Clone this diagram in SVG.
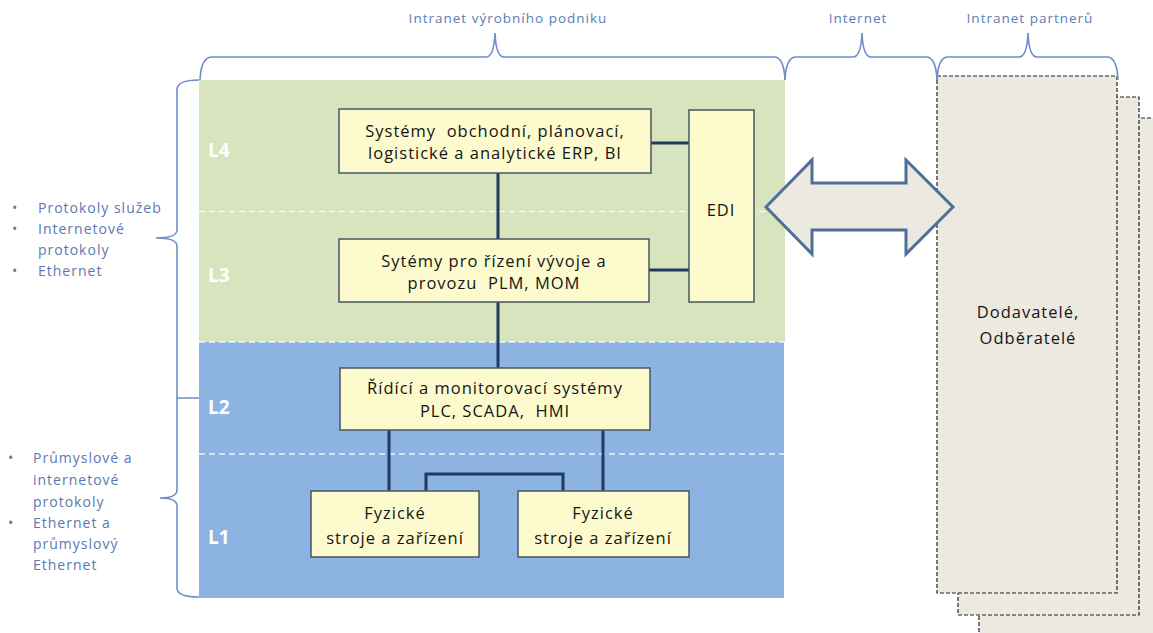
<svg xmlns="http://www.w3.org/2000/svg" width="1153" height="633" viewBox="0 0 1153 633">
<style>
.box{fill:#FDFBCD;stroke:#4A5663;stroke-width:1.5}
.bt{font-family:"Open Sans","Liberation Sans",sans-serif;font-size:16.5px;letter-spacing:1px;fill:#151515;text-anchor:middle;white-space:pre}
.lay{font-family:"Open Sans","Liberation Sans",sans-serif;font-size:19px;font-weight:bold;fill:#FFFFFF}
.brace{fill:none;stroke:#6E8FC7;stroke-width:1.6}
.lbl{font-family:"Open Sans","Liberation Sans",sans-serif;font-size:13.5px;letter-spacing:1px;fill:#5B7DB5;text-anchor:middle}
.side{font-family:"Open Sans","Liberation Sans",sans-serif;font-size:14px;letter-spacing:1px;fill:#5B78B0}
.conn{fill:none;stroke:#1F3B62;stroke-width:3}
.sep{stroke:#FFFFFF;stroke-width:1.3;stroke-dasharray:6 4;opacity:0.85}
.partner{fill:#ECEAE0;stroke:#222;stroke-width:1.2;stroke-dasharray:4 2}
</style>

<g id="background">
<rect x="199" y="80" width="586" height="262" fill="#D7E4BD"/>
<rect x="199" y="342" width="585" height="256" fill="#8DB3E2"/>
<line class="sep" x1="199" y1="211.5" x2="785" y2="211.5"/>
<line class="sep" x1="199" y1="342" x2="784" y2="342"/>
<line class="sep" x1="199" y1="454" x2="784" y2="454"/>
</g>

<g id="layer-labels">
<text class="lay" x="208" y="157">L4</text>
<text class="lay" x="208" y="282">L3</text>
<text class="lay" x="208" y="414">L2</text>
<text class="lay" x="208" y="544">L1</text>
</g>

<g id="partners">
<rect class="partner" x="979" y="118" width="200" height="540"/>
<rect class="partner" x="958" y="97" width="181" height="518"/>
<rect class="partner" x="937" y="76" width="180" height="517"/>
<text class="bt" x="1028" y="318">Dodavatelé,</text>
<text class="bt" x="1028" y="344">Odběratelé</text>
</g>

<g id="braces">
<path class="brace" d="M200,80 Q201,57 212,57 L486,57 Q494,57 495,33 Q496,57 504,57 L774,57 Q784,57 785,80"/>
<path class="brace" d="M785,80 Q786,57 796,57 L853,57 Q861,57 862,33 Q863,57 871,57 L926,57 Q936,57 937,80"/>
<path class="brace" d="M937,80 Q938,57 948,57 L1019,57 Q1027,57 1028,33 Q1029,57 1037,57 L1107,57 Q1117,57 1118,80"/>
<path class="brace" d="M199,80 Q177,80 177,90 L177,230 Q177,238 156,238 Q177,238 177,246 L177,398 L199,398"/>
<path class="brace" d="M177,398 L177,490 Q177,498 160,498 Q177,498 177,506 L177,588 Q177,597 199,597"/>
</g>

<g id="top-labels">
<text class="lbl" x="508" y="23">Intranet výrobního podniku</text>
<text class="lbl" x="858" y="23">Internet</text>
<text class="lbl" x="1030" y="23">Intranet partnerů</text>
</g>

<g id="side-labels">
<g class="side">
<text x="12" y="213">•</text><text x="38" y="213">Protokoly služeb</text>
<text x="12" y="234">•</text><text x="38" y="234">Internetové</text>
<text x="38" y="255">protokoly</text>
<text x="12" y="276">•</text><text x="38" y="276">Ethernet</text>
<text x="8" y="463">•</text><text x="33" y="463">Průmyslové a</text>
<text x="33" y="485">internetové</text>
<text x="33" y="507">protokoly</text>
<text x="8" y="528">•</text><text x="33" y="528">Ethernet a</text>
<text x="33" y="549">průmyslový</text>
<text x="33" y="570">Ethernet</text>
</g>
</g>

<g id="connectors">
<line class="conn" x1="498" y1="173" x2="498" y2="239"/>
<line class="conn" x1="498" y1="302" x2="498" y2="368"/>
<line class="conn" x1="651" y1="143" x2="689" y2="143"/>
<line class="conn" x1="649" y1="270" x2="689" y2="270"/>
<line class="conn" x1="389" y1="430" x2="389" y2="491"/>
<line class="conn" x1="603" y1="430" x2="603" y2="491"/>
<polyline class="conn" points="426,491 426,474 563,474 563,491"/>
<path id="edi-arrow" d="M766,207 L812,160 L812,183 L906,183 L906,160 L953,207 L906,254 L906,230 L812,230 L812,254 Z" fill="#ECEAE0" stroke="#4F6E99" stroke-width="3" stroke-linejoin="miter"/>
</g>

<g id="node-l4">
<rect class="box" x="339" y="109" width="312" height="64"/>
<text class="bt" x="495" y="137">Systémy  obchodní, plánovací,</text>
<text class="bt" x="495" y="159">logistické a analytické ERP, BI</text>
</g>
<g id="node-l3">
<rect class="box" x="339" y="239" width="310" height="63"/>
<text class="bt" x="494" y="267">Sytémy pro řízení vývoje a</text>
<text class="bt" x="494" y="289">provozu  PLM, MOM</text>
</g>
<g id="node-edi">
<rect class="box" x="689" y="110" width="65" height="192"/>
<text class="bt" x="721" y="216">EDI</text>
</g>
<g id="node-l2">
<rect class="box" x="340" y="368" width="310" height="62"/>
<text class="bt" x="495" y="394">Řídící a monitorovací systémy</text>
<text class="bt" x="495" y="417">PLC, SCADA,  HMI</text>
</g>
<g id="node-l1a">
<rect class="box" x="311" y="491" width="168" height="66"/>
<text class="bt" x="395" y="519">Fyzické</text>
<text class="bt" x="395" y="544">stroje a zařízení</text>
</g>
<g id="node-l1b">
<rect class="box" x="518" y="491" width="171" height="66"/>
<text class="bt" x="603" y="519">Fyzické</text>
<text class="bt" x="603" y="544">stroje a zařízení</text>
</g>
</svg>
